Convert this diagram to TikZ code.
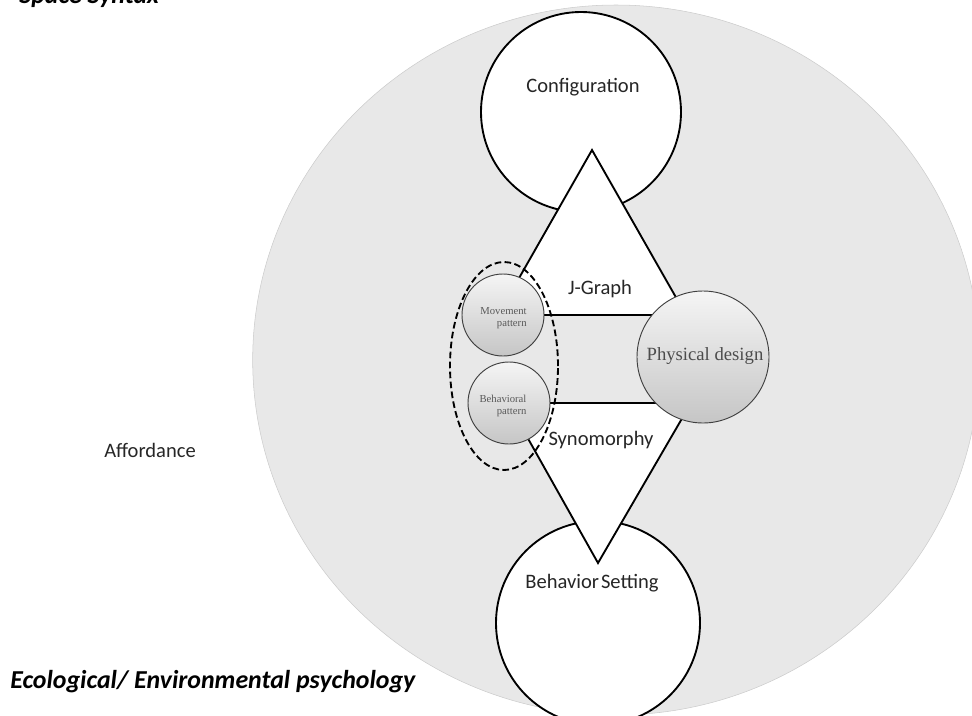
\documentclass[tikz,border=0pt]{standalone}
\usepackage{fontspec}
\setmainfont{Carlito}
\newfontfamily\timesfont{Liberation Serif}
\usetikzlibrary{shapes.geometric}

\pgfdeclarelayer{back}
\pgfdeclarelayer{mid}
\pgfsetlayers{back,mid,main}

\begin{document}
\begin{tikzpicture}[x=0.75pt,y=-0.75pt,
  opencirc/.style={circle,draw=black,line width=1.4pt,fill=white,inner sep=0pt},
  ballcirc/.style={circle,draw=black!75,line width=0.7pt,top color=gray!8,bottom color=gray!45,inner sep=0pt},
  lbl/.style={text=black!85,font=\fontsize{15.4}{18}\selectfont,inner sep=0pt},
  title/.style={text=black,font=\bfseries\itshape\fontsize{19.4}{22}\selectfont,inner sep=0pt},
  smalltxt/.style={text=black!65,font=\timesfont\fontsize{8}{9}\selectfont,align=right,inner sep=0pt},
  edge/.style={draw=black,line width=1.4pt}]
\useasboundingbox (0,0) rectangle (972,715);
\clip (0,0) rectangle (972,715);

%background
\begin{pgfonlayer}{back}
\node[ellipse,fill=gray!18,draw=gray!40,line width=0.4pt,minimum width=545pt,minimum height=532.5pt] (eco) at (616,360) {};
\node[opencirc,minimum size=150pt] (config) at (581,112) {};
\node[opencirc,minimum size=153pt] (setting) at (598,623) {};
\end{pgfonlayer}

\node[ballcirc,minimum size=61.5pt] (move) at (503,315) {};
\node[ballcirc,minimum size=61.5pt] (behav) at (509,403) {};
\node[ballcirc,minimum size=99pt] (phys) at (703,357) {};
\node[ellipse,draw=black,line width=1.4pt,dash pattern=on 5pt off 2.5pt,minimum width=81pt,minimum height=156pt] (group) at (504,366) {};

%triangles
\begin{pgfonlayer}{mid}
\coordinate (tapex) at (592,150);
\coordinate (tleft) at (498,315);
\coordinate (tright) at (686,315);
\coordinate (bapex) at (598,563);
\coordinate (bleft) at (508,403);
\coordinate (bright) at (691,403);
\fill[white] (tapex) -- (tleft) -- (tright) -- cycle;
\fill[white] (bapex) -- (bleft) -- (bright) -- cycle;
\draw[edge] (tleft) -- (tapex) -- (tright);
\draw[edge] (bleft) -- (bapex) -- (bright);
\draw[edge] (move) -- (move -| phys);
\draw[edge] (behav) -- (behav -| phys);
\end{pgfonlayer}

\node[lbl,anchor=base] (configtxt) at (583,92) {Configuration};
\node[lbl,anchor=base] (jgraph) at (600,294) {J-Graph};
\node[lbl,anchor=base] (synom) at (601,445) {Synomorphy};
\node[lbl,anchor=base] (settingtxt) at (592,588) {Behavior\kern0.1em Setting};
\node[lbl,anchor=base] (afford) at (150,457) {Affordance};

\node[smalltxt] (movetxt) at (503.5,318) {Movement\\pattern};
\node[smalltxt] (behavtxt) at (503,406) {Behavioral\\pattern};
\node[text=black!70,font=\timesfont\fontsize{14}{16}\selectfont,anchor=base,inner sep=0pt] (phystxt) at (705,360) {Physical design};

\node[title,anchor=base west] (syntax) at (19,3) {Space Syntax};
\node[title,anchor=base west] (ecology) at (10,688) {Ecological/ Environmental psychology};
\end{tikzpicture}
\end{document}
